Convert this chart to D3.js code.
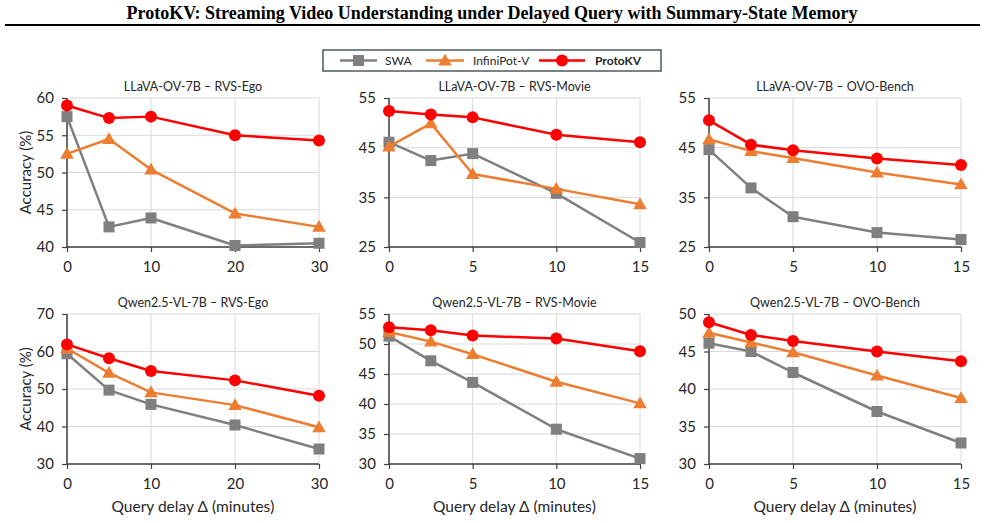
<!DOCTYPE html>
<html>
<head>
<meta charset="utf-8">
<script src="https://cdn.jsdelivr.net/npm/d3@7"></script>
<style>
  body { margin: 0; background: #fff; }
  svg text { font-family: Lato, "Open Sans", sans-serif; }
</style>
</head>
<body>
<svg id="chart" width="985" height="523"></svg>
<script>
// ---- data ----
const seriesNames = ['SWA', 'InfiniPot-V', 'ProtoKV'];
const panelTitles = [
  'LLaVA-OV-7B – RVS-Ego', 'LLaVA-OV-7B – RVS-Movie', 'LLaVA-OV-7B – OVO-Bench',
  'Qwen2.5-VL-7B – RVS-Ego', 'Qwen2.5-VL-7B – RVS-Movie', 'Qwen2.5-VL-7B – OVO-Bench'
];
const delaysEgo = [0, 5, 10, 20, 30];
const delaysShort = [0, 2.5, 5, 10, 15];
const xTicksEgo = [0, 10, 20, 30];
const xTicksShort = [0, 5, 10, 15];

// LLaVA-OV-7B
const llavaEgoSWA = [57.5, 42.7, 43.9, 40.2, 40.5];
const llavaEgoInf = [52.5, 54.5, 50.4, 44.5, 42.7];
const llavaEgoProto = [59.0, 57.3, 57.5, 55.0, 54.3];
const llavaMovieSWA = [46.1, 42.4, 43.8, 35.8, 25.9];
const llavaMovieInf = [45.2, 49.9, 39.7, 36.7, 33.6];
const llavaMovieProto = [52.4, 51.7, 51.1, 47.6, 46.1];
const llavaOvoSWA = [44.6, 36.9, 31.1, 27.9, 26.5];
const llavaOvoInf = [46.7, 44.3, 42.9, 40.0, 37.6];
const llavaOvoProto = [50.5, 45.6, 44.5, 42.8, 41.5];
// Qwen2.5-VL-7B
const qwenEgoSWA = [59.4, 49.7, 45.9, 40.4, 34.0];
const qwenEgoInf = [60.8, 54.3, 49.1, 45.7, 39.8];
const qwenEgoProto = [61.9, 58.2, 54.8, 52.3, 48.2];
const qwenMovieSWA = [51.3, 47.2, 43.6, 35.8, 30.9];
const qwenMovieInf = [52.0, 50.4, 48.3, 43.7, 40.1];
const qwenMovieProto = [52.8, 52.3, 51.4, 50.9, 48.8];
const qwenOvoSWA = [46.1, 45.0, 42.2, 37.0, 32.8];
const qwenOvoInf = [47.5, 46.2, 44.9, 41.8, 38.8];
const qwenOvoProto = [48.9, 47.2, 46.4, 45.0, 43.7];

const yTicksEgoTop = [40, 45, 50, 55, 60];
const yTicksTop = [25, 35, 45, 55];
const yTicksEgoBottom = [30, 40, 50, 60, 70];
const yTicksMovieBottom = [30, 35, 40, 45, 50, 55];
const yTicksOvoBottom = [30, 35, 40, 45, 50];

const panels = [
  {x: delaysEgo, xt: xTicksEgo, yt: yTicksEgoTop, s: [llavaEgoSWA, llavaEgoInf, llavaEgoProto]},
  {x: delaysShort, xt: xTicksShort, yt: yTicksTop, s: [llavaMovieSWA, llavaMovieInf, llavaMovieProto]},
  {x: delaysShort, xt: xTicksShort, yt: yTicksTop, s: [llavaOvoSWA, llavaOvoInf, llavaOvoProto]},
  {x: delaysEgo, xt: xTicksEgo, yt: yTicksEgoBottom, s: [qwenEgoSWA, qwenEgoInf, qwenEgoProto]},
  {x: delaysShort, xt: xTicksShort, yt: yTicksMovieBottom, s: [qwenMovieSWA, qwenMovieInf, qwenMovieProto]},
  {x: delaysShort, xt: xTicksShort, yt: yTicksOvoBottom, s: [qwenOvoSWA, qwenOvoInf, qwenOvoProto]}
];

// ---- layout ----
const colors = ['#7f7f7f', '#ed7d31', '#ff0000'];
const cols = [[67, 319], [389, 640], [709, 961]];
const rows = [[98, 247], [314, 464]];
const axisColor = '#404040';
const gridColor = '#d9d9d9';
const textColor = '#262626';

const svg = d3.select('#chart');

// title + rule
svg.append('text')
  .attr('x', 492).attr('y', 19)
  .attr('text-anchor', 'middle')
  .style('font-family', '"Liberation Serif", "DejaVu Serif", serif')
  .style('font-weight', 'bold')
  .style('font-size', '18px')
  .attr('fill', '#000')
  .text('ProtoKV: Streaming Video Understanding under Delayed Query with Summary-State Memory');
svg.append('line')
  .attr('x1', 5).attr('x2', 980).attr('y1', 25).attr('y2', 25)
  .attr('stroke', '#000').attr('stroke-width', 2);

// marker drawer
function marker(g, k, cx, cy) {
  if (k === 0) {
    g.append('rect').attr('x', cx - 5.5).attr('y', cy - 5.5)
      .attr('width', 11).attr('height', 11).attr('fill', colors[0]);
  } else if (k === 1) {
    g.append('path')
      .attr('d', d3.symbol(d3.symbolTriangle, 80)())
      .attr('transform', `translate(${cx},${cy + 1})`)
      .attr('fill', colors[1]);
  } else {
    g.append('circle').attr('cx', cx).attr('cy', cy).attr('r', 6).attr('fill', colors[2]);
  }
}

// legend
const legend = svg.append('g');
legend.append('rect')
  .attr('x', 323).attr('y', 50).attr('width', 338).attr('height', 21)
  .attr('fill', '#fff').attr('stroke', '#2f3f4a').attr('stroke-width', 1.3);
const legendPos = [[340, 377, 385], [426, 464, 473], [539, 585, 595]];
seriesNames.forEach((name, k) => {
  const [a, b, t] = legendPos[k];
  legend.append('line').attr('x1', a).attr('x2', b).attr('y1', 60.5).attr('y2', 60.5)
    .attr('stroke', colors[k]).attr('stroke-width', 2.5);
  marker(legend, k, (a + b) / 2, 60.5);
  legend.append('text').attr('x', t).attr('y', 65)
    .style('font-size', '12px')
    .style('font-weight', k === 2 ? 'bold' : 'normal')
    .attr('fill', textColor)
    .text(name);
});

// panels
panels.forEach((p, i) => {
  const [x0, x1] = cols[i % 3];
  const [y0, y1] = rows[Math.floor(i / 3)];
  const xScale = d3.scaleLinear().domain([p.xt[0], p.xt[p.xt.length - 1]]).range([x0, x1]);
  const yScale = d3.scaleLinear().domain([p.yt[0], p.yt[p.yt.length - 1]]).range([y1, y0]);
  const g = svg.append('g');

  // grid
  g.selectAll('.hg').data(p.yt).enter().append('line')
    .attr('x1', x0).attr('x2', x1)
    .attr('y1', d => yScale(d)).attr('y2', d => yScale(d))
    .attr('stroke', gridColor).attr('stroke-width', 1);
  g.selectAll('.vg').data(p.xt).enter().append('line')
    .attr('x1', d => xScale(d)).attr('x2', d => xScale(d))
    .attr('y1', y0).attr('y2', y1)
    .attr('stroke', gridColor).attr('stroke-width', 1);

  // axes
  const yAxis = d3.axisLeft(yScale).tickValues(p.yt).tickSize(5).tickPadding(8);
  const xAxis = d3.axisBottom(xScale).tickValues(p.xt).tickSize(5).tickPadding(9);
  const ya = g.append('g').attr('transform', `translate(${x0},0)`).call(yAxis);
  const xa = g.append('g').attr('transform', `translate(0,${y1})`).call(xAxis);
  [ya, xa].forEach(a => {
    a.select('.domain').attr('stroke', axisColor).attr('stroke-width', 1.5);
    a.selectAll('.tick line').attr('stroke', axisColor).attr('stroke-width', 1.2);
    a.selectAll('.tick text').attr('fill', textColor)
      .style('font-size', '15px').style('font-family', 'Lato, sans-serif');
  });
  xa.select('.domain').attr('d', `M${x0},0H${x1}`);
  ya.select('.domain').attr('d', `M0,${y0}V${y1}`);

  // title
  g.append('text').attr('x', (x0 + x1) / 2).attr('y', y0 - 7)
    .attr('text-anchor', 'middle').style('font-size', '12.5px').attr('fill', textColor)
    .text(panelTitles[i]);

  if (i % 3 === 0) {
    g.append('text')
      .attr('transform', `translate(${x0 - 36},${(y0 + y1) / 2}) rotate(-90)`)
      .attr('text-anchor', 'middle').style('font-size', '15px').attr('fill', textColor)
      .text('Accuracy (%)');
  }
  if (i >= 3) {
    g.append('text').attr('x', (x0 + x1) / 2).attr('y', y1 + 48)
      .attr('text-anchor', 'middle').style('font-size', '15.5px').attr('fill', textColor)
      .text('Query delay Δ (minutes)');
  }

  // series
  const line = d3.line().x((d, j) => xScale(p.x[j])).y(d => yScale(d));
  p.s.forEach((vals, k) => {
    g.append('path').attr('d', line(vals))
      .attr('fill', 'none').attr('stroke', colors[k]).attr('stroke-width', 2.5)
      .attr('stroke-linejoin', 'round');
    vals.forEach((v, j) => marker(g, k, xScale(p.x[j]), yScale(v)));
  });
});
</script>
</body>
</html>
